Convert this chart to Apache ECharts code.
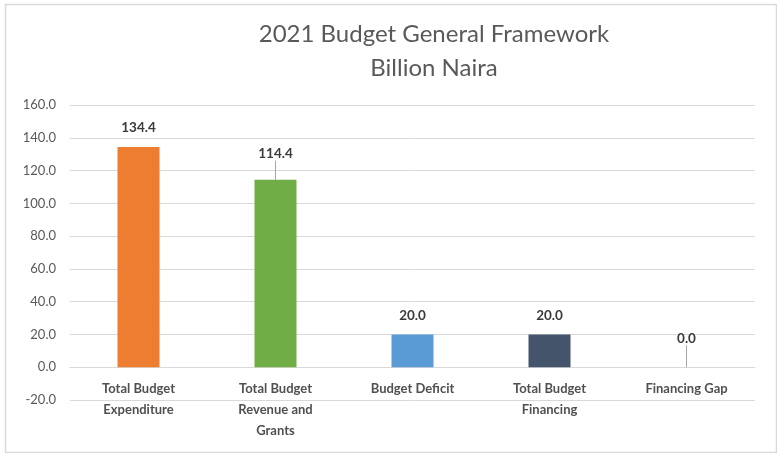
<!DOCTYPE html>
<html><head><meta charset="utf-8">
<script src="https://cdn.jsdelivr.net/npm/echarts@6/dist/echarts.min.js"></script>
<style>html,body{margin:0;padding:0;background:#fff}#c{width:777px;height:453px}</style>
</head><body><div id="c"></div>
<script>
const categories = ["Total Budget\nExpenditure", "Total Budget\nRevenue and\nGrants", "Budget Deficit", "Total Budget\nFinancing", "Financing Gap"];
const values = [134.4, 114.4, 20.0, 20.0, 0.0];
const barColors = ["#ED7D31", "#70AD47", "#5B9BD5", "#44546A", "#A5A5A5"];
const titleLines = ["2021 Budget General Framework", "Billion Naira"];
const yMin = -20, yMax = 160, yStep = 20;

const chart = echarts.init(document.getElementById('c'));
const FONT = "Lato, 'Open Sans', 'Liberation Sans', sans-serif";
const leader = { 1: -7, 4: -10 };
chart.setOption({
  animation: false,
  textStyle: { fontFamily: FONT },
  title: {
    text: titleLines.join('\n'),
    left: 429, top: 12, textAlign: 'center',
    textStyle: { fontSize: 24, fontWeight: 'normal', color: '#595959', lineHeight: 34, fontFamily: FONT }
  },
  graphic: [{
    type: 'rect', left: 3, top: 2, z: -1,
    shape: { width: 771, height: 448 },
    style: { fill: 'none', stroke: '#D9D9D9', lineWidth: 1.5 }
  }],
  grid: { left: 70, right: 22, top: 105, bottom: 53 },
  xAxis: {
    type: 'category', data: categories,
    axisLine: { onZero: true, lineStyle: { color: '#D9D9D9', width: 1 } },
    axisTick: { show: false },
    axisLabel: { color: '#505050', fontSize: 13, fontWeight: 'bold', lineHeight: 21, margin: -22, interval: 0, fontFamily: FONT }
  },
  yAxis: {
    type: 'value', min: yMin, max: yMax, interval: yStep,
    axisLine: { show: false }, axisTick: { show: false },
    axisLabel: { color: '#595959', fontSize: 13, margin: 14, formatter: v => v.toFixed(1), fontFamily: FONT },
    splitLine: { lineStyle: { color: '#D9D9D9', width: 1 } }
  },
  series: [{
    type: 'bar', barWidth: 42,
    data: values.map((v, i) => ({
      value: v, itemStyle: { color: barColors[i] },
      labelLine: { show: leader[i] !== undefined, lineStyle: { color: '#A6A6A6', width: 1 } }
    })),
    label: {
      show: true, position: 'top', distance: 12,
      color: '#3A3A3A', fontWeight: 'bold', fontSize: 13.5, fontFamily: FONT,
      formatter: p => p.value.toFixed(1)
    },
    labelLayout: p => (leader[p.dataIndex] !== undefined ? { dy: leader[p.dataIndex] } : {})
  }]
});
</script></body></html>
